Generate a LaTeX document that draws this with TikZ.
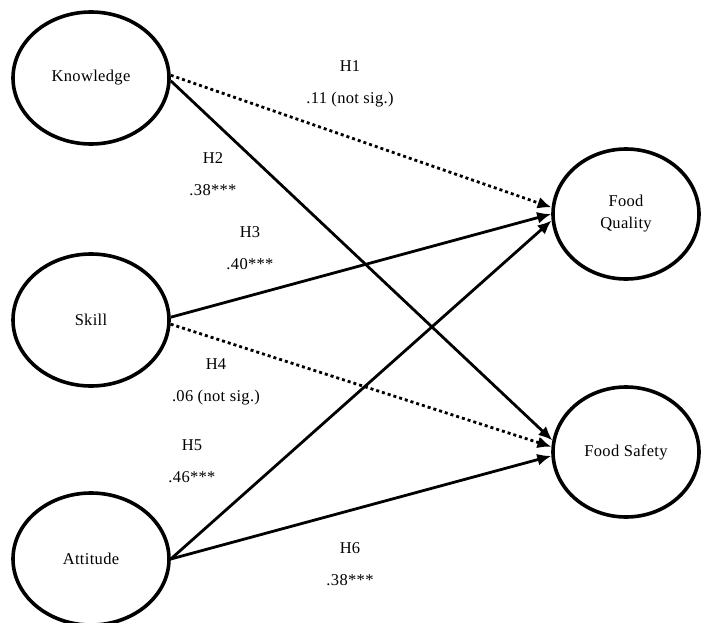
\documentclass[tikz,border=0pt]{standalone}
\usepackage{fontspec}
\setmainfont{Liberation Serif}[LetterSpace=2]
\usepackage{tikz}
\usetikzlibrary{shapes.geometric}
\usetikzlibrary{arrows.meta}

\begin{document}
\begin{tikzpicture}[x=1pt, y=-1pt, node distance=239pt]
    \tikzstyle{construct} = [ellipse, draw=black, line width=3.6pt, minimum width=156pt, minimum height=132pt, inner sep=0pt, text centered, align=center, font=\fontsize{16.5}{22}\selectfont]
    \tikzstyle{outcome} = [ellipse, draw=black, line width=3.6pt, minimum width=146pt, minimum height=130pt, inner sep=0pt, text centered, align=center, font=\fontsize{16.5}{22}\selectfont]
    \tikzstyle{path} = [line width=2.8pt, -{Latex[length=14pt, width=12pt]}]
    \tikzstyle{nonsig} = [path, dash pattern=on 3pt off 3pt]
    \tikzstyle{coef} = [align=center, font=\fontsize{16.5}{32}\selectfont]

    \useasboundingbox (0,0) rectangle (701,623);

    % Predictors
    \node [construct] (knowledge) at (91,78) {Knowledge};
    \node [construct, below of=knowledge, yshift=-3pt] (skill) {Skill};
    \node [construct, below of=skill] (attitude) {Attitude};

    % Outcomes
    \node [outcome] (quality) at (626,214) {Food\\Quality};
    \node [outcome] (safety) at (626,452) {Food Safety};

    % Paths
    \draw [nonsig] (knowledge.2) -- (quality.175);
    \draw [path] (knowledge.358) -- (safety.171);
    \draw [path] (skill.2) -- (quality.180);
    \draw [nonsig] (skill.357) -- (safety.176);
    \draw [path] (attitude.east) -- (quality.185);
    \draw [path] (attitude.east) -- (safety.183);

    % Coefficients
    \node [coef] (h1) at (350,84) {H1\\.11 (not sig.)};
    \node [coef] (h2) at (213,174) {H2\\.38***};
    \node [coef] (h3) at (250,248) {H3\\.40***};
    \node [coef] (h4) at (216,382) {H4\\.06 (not sig.)};
    \node [coef] (h5) at (192,461) {H5\\.46***};
    \node [coef] (h6) at (350,564) {H6\\.38***};
\end{tikzpicture}
\end{document}
